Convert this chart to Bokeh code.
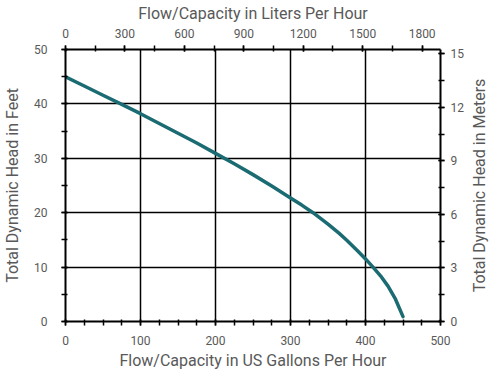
import math
from bokeh.plotting import figure
from bokeh.models import Range1d, LinearAxis, FixedTicker, Label
from bokeh.embed import file_html
from bokeh.resources import INLINE

# Data
flow_gph = [0, 25, 50, 75, 100, 125, 150, 175, 200, 225, 250, 275, 300, 315, 330, 350,
            365, 375, 390, 400, 410, 420, 430, 440, 450]
head_ft = [45.0, 43.3, 41.6, 39.9, 38.2, 36.4, 34.6, 32.8, 30.9, 29.0, 27.0, 24.9, 22.7, 21.4,
           20.0, 17.9, 16.2, 14.95, 12.9, 11.5, 10.0, 8.4, 6.5, 4.1, 0.9]

gal_ticks = [0, 100, 200, 300, 400, 500]
gal_minor = list(range(0, 501, 25))
ft_ticks = [0, 10, 20, 30, 40, 50]
ft_minor = list(range(0, 51, 5))
lph_ticks = [0, 300, 600, 900, 1200, 1500, 1800]
lph_minor = list(range(0, 1801, 150))
m_ticks = [0, 3, 6, 9, 12, 15]
m_minor = [i * 1.5 for i in range(0, 11)]

x_title = "Flow/Capacity in US Gallons Per Hour"
x2_title = "Flow/Capacity in Liters Per Hour"
y_title = "Total Dynamic Head in Feet"
y2_title = "Total Dynamic Head in Meters"

GAL_TO_L = 3.78541
FT_TO_M = 0.3048
X_MAX = 500
Y_MAX = 50

TEXT = "#595959"
FONT = "Roboto"
FW, FH = 375, 272

p = figure(frame_width=FW, frame_height=FH,
           x_range=Range1d(0, X_MAX), y_range=Range1d(0, Y_MAX),
           output_backend="svg", toolbar_location=None,
           x_axis_location=None, y_axis_location=None,
           min_border_left=59, min_border_right=50, min_border_top=41, min_border_bottom=0)
p.extra_x_ranges = {"lph": Range1d(0, X_MAX * GAL_TO_L)}
p.extra_y_ranges = {"m": Range1d(0, Y_MAX * FT_TO_M)}
p.outline_line_color = None
p.background_fill_color = "white"
p.border_fill_color = "white"

ax_bottom = LinearAxis(ticker=FixedTicker(ticks=gal_ticks, minor_ticks=gal_minor), axis_label=x_title)
ax_top = LinearAxis(x_range_name="lph", ticker=FixedTicker(ticks=lph_ticks, minor_ticks=lph_minor),
                    axis_label=x2_title)
ax_left = LinearAxis(ticker=FixedTicker(ticks=ft_ticks, minor_ticks=ft_minor), axis_label=y_title)
ax_right = LinearAxis(y_range_name="m", ticker=FixedTicker(ticks=m_ticks, minor_ticks=m_minor))

for ax in (ax_bottom, ax_top, ax_left, ax_right):
    ax.axis_line_color = "black"
    ax.axis_line_width = 2
    ax.major_tick_line_color = "black"
    ax.minor_tick_line_color = "black"
    ax.major_tick_line_width = 1.5
    ax.minor_tick_line_width = 1.5
    ax.major_tick_in = 2
    ax.major_tick_out = 4
    ax.minor_tick_in = 2
    ax.minor_tick_out = 4
    ax.major_label_text_font = FONT
    ax.major_label_text_font_size = "12px"
    ax.major_label_text_color = TEXT
    ax.axis_label_text_font = FONT
    ax.axis_label_text_font_size = "16px"
    ax.axis_label_text_font_style = "normal"
    ax.axis_label_text_color = TEXT

ax_bottom.major_label_standoff = 10
ax_bottom.axis_label_standoff = 3
ax_top.major_label_standoff = 8
ax_top.axis_label_standoff = 3
ax_left.major_label_standoff = 14
ax_left.axis_label_standoff = 9
ax_right.major_label_standoff = 6

p.add_layout(ax_bottom, "below")
p.add_layout(ax_top, "above")
p.add_layout(ax_left, "left")
p.add_layout(ax_right, "right")

right_title = Label(x=13, y=FH / 2, x_units="screen", y_units="screen",
                    text=y2_title, angle=math.pi / 2, text_align="center", text_baseline="middle",
                    text_font=FONT, text_font_size="16px", text_color=TEXT)
p.add_layout(right_title, "right")

p.xgrid.ticker = FixedTicker(ticks=gal_ticks)
p.ygrid.ticker = FixedTicker(ticks=ft_ticks)
p.xgrid.grid_line_color = "black"
p.ygrid.grid_line_color = "black"
p.xgrid.grid_line_width = 1.5
p.ygrid.grid_line_width = 1.5
p.xgrid.grid_line_alpha = 1
p.ygrid.grid_line_alpha = 1

p.line(flow_gph, head_ft, line_color="#1b6b72", line_width=3.5, line_cap="round", line_join="round")

open("out.html", "w").write(file_html(p, INLINE))
